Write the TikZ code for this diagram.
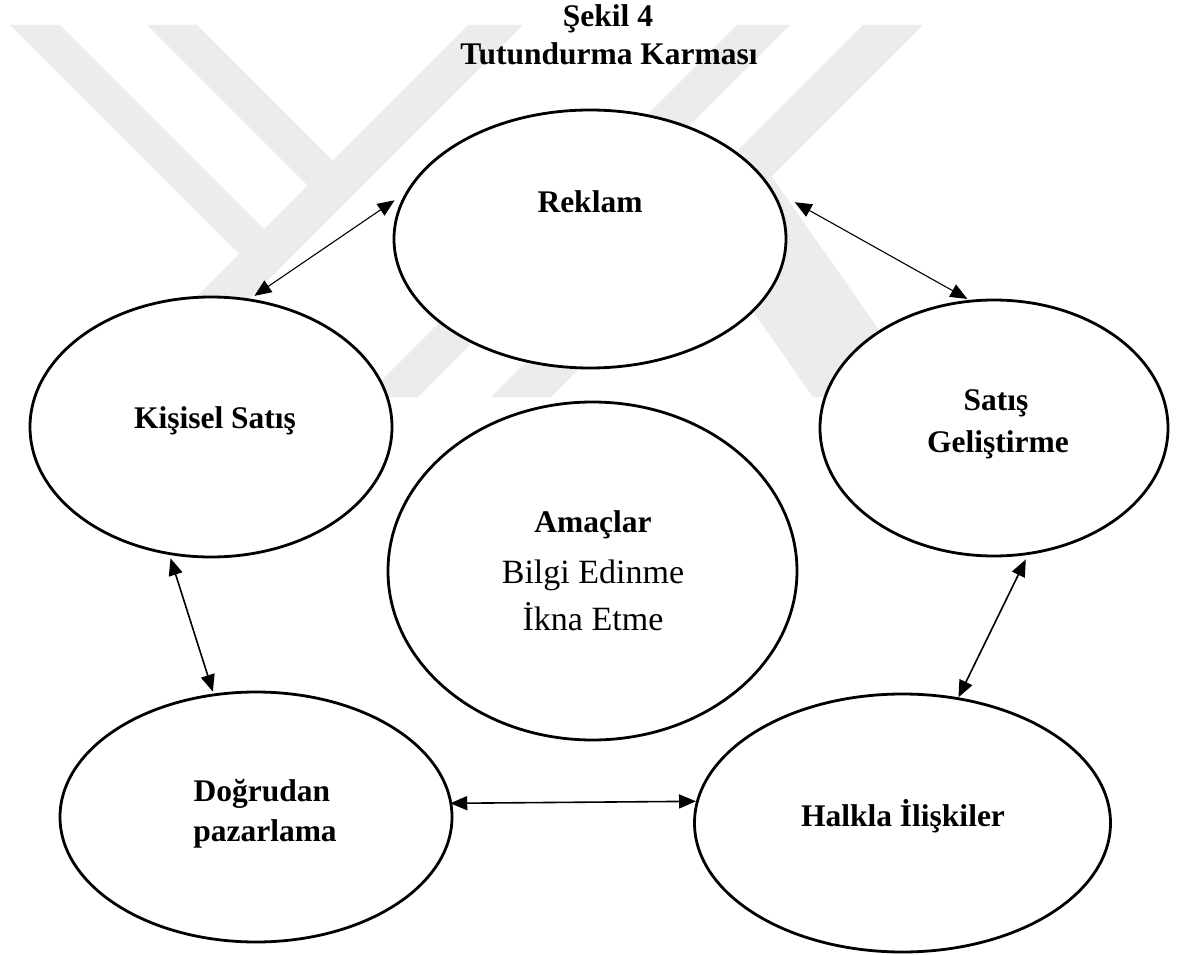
\documentclass[tikz,border=0pt]{standalone}
\usepackage{fontspec}
\setmainfont{Liberation Serif}
\usetikzlibrary{shapes.geometric,arrows.meta}
\definecolor{wmark}{RGB}{236,236,236}

\begin{document}
\begin{tikzpicture}[x=1pt,y=-1pt,
  oval/.style={draw=black,line width=2.8pt,ellipse,fill=white,inner sep=0pt},
  lbl/.style={font=\fontsize{31.5}{36}\selectfont\bfseries,anchor=base,inner sep=0pt},
  plain/.style={font=\fontsize{34}{38}\selectfont,anchor=base,inner sep=0pt},
  link/.style={{Triangle[length=17pt,width=14pt]}-{Triangle[length=17pt,width=14pt]},line width=1.6pt},
  thinlink/.style={link,line width=1.1pt},
  band/.style={fill=wmark,draw=none}]

% page and background
\useasboundingbox (0,0) rectangle (1187,955);
\fill[white] (0,0) rectangle (1187,955);

% faint background emblem
\fill[band] (10,25) -- (60,25) -- (264,229) -- (239,254) -- cycle;
\fill[band] (147,25) -- (197,25) -- (332.5,160.5) -- (307.5,185.5) -- cycle;
\fill[band] (468,25) -- (523,25) -- (151,397) -- (96,397) -- cycle;
\fill[band] (737,25) -- (790,25) -- (418,397) -- (365,397) -- cycle;
\fill[band] (863,25) -- (923,25) -- (551,397) -- (491,397) -- cycle;
\fill[band] (771.5,176.5) -- (926,397) -- (813,397) -- (705,243) -- cycle;

% title
\node[lbl] (title1) at (608,27) {Şekil 4};
\node[lbl] (title2) at (609,65) {Tutundurma Karması};

% ellipses
\node[oval,minimum width=392pt,minimum height=258pt] (reklam) at (590,239) {};
\node[oval,minimum width=362pt,minimum height=260pt] (kisisel) at (211,427) {};
\node[oval,minimum width=348pt,minimum height=256pt] (satis) at (994,428) {};
\node[oval,minimum width=409pt,minimum height=338pt] (amac) at (592.5,571) {};
\node[oval,minimum width=392pt,minimum height=250pt] (dogru) at (256,817) {};
\node[oval,minimum width=416pt,minimum height=258pt] (halkla) at (902.5,823) {};

% texts
\node[lbl] (treklam) at (590,212) {Reklam};
\node[lbl] (tkisisel) at (215,428) {Kişisel Satış};
\node[lbl] (tsatis1) at (996,410) {Satış};
\node[lbl] (tsatis2) at (998,452) {Geliştirme};
\node[lbl] (tamac) at (593,532) {Amaçlar};
\node[plain] (tbilgi) at (593,583) {Bilgi Edinme};
\node[plain] (tikna) at (593,630) {İkna Etme};
\node[lbl] (tdogru1) at (262,801) {Doğrudan};
\node[lbl] (tdogru2) at (265,841) {pazarlama};
\node[lbl] (thalkla) at (903,826) {Halkla İlişkiler};

% connectors
\draw[thinlink,shorten <=5pt,shorten >=13pt] (kisisel.73.45) -- (reklam.166.5);
\draw[thinlink,shorten <=25pt,shorten >=2pt] (reklam.15) -- (satis.101);
\draw[link,shorten <=3.5pt,shorten >=2pt] (kisisel.252.5) -- (dogru.109.2);
\draw[link,shorten <=5pt] (satis.285.7) -- (halkla.66.3);
\draw[link,shorten <=-2pt] (dogru.4) -- (halkla.174.5);
\end{tikzpicture}
\end{document}
